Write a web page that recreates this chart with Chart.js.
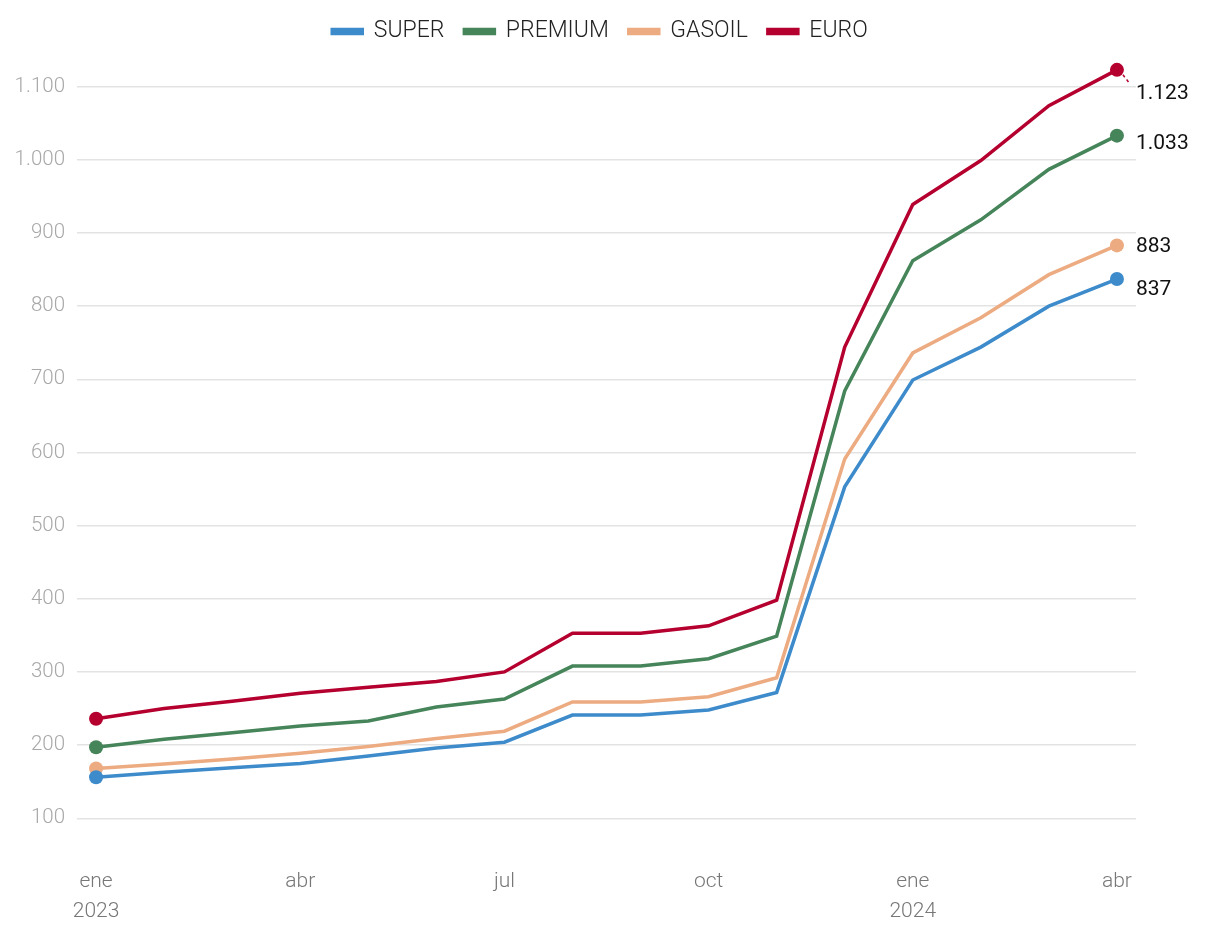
<!DOCTYPE html>
<html>
<head>
<meta charset="utf-8">
<script src="https://cdn.jsdelivr.net/npm/chart.js@4"></script>
<style>
  html, body { margin: 0; padding: 0; background: #fff; }
  #wrap { width: 1220px; height: 938px; }
</style>
</head>
<body>
<div id="wrap"><canvas id="fuelChart"></canvas></div>
<script>
// meses ene 2023 - abr 2024
const months = ["ene", "feb", "mar", "abr", "may", "jun", "jul", "ago", "sep", "oct", "nov", "dic", "ene", "feb", "mar", "abr"];
const years = ["2023", "", "", "", "", "", "", "", "", "", "", "", "2024", "", "", ""];
const tickMonths = [0, 3, 6, 9, 12, 15];

const superVals   = [156, 163, 169, 175, 185, 196, 204, 241, 241, 248, 272, 553, 699, 744, 800, 837];
const premiumVals = [197, 208, 217, 226, 233, 252, 263, 308, 308, 318, 349, 684, 862, 918, 987, 1033];
const gasoilVals  = [168, 174, 181, 189, 198, 209, 219, 259, 259, 266, 292, 591, 736, 784, 843, 883];
const euroVals    = [236, 250, 260, 271, 279, 287, 300, 353, 353, 363, 398, 744, 939, 999, 1074, 1123];

const yTicks = [100, 200, 300, 400, 500, 600, 700, 800, 900, 1000, 1100];

const fmt = (v) => v.toLocaleString("es-AR");

function series(label, vals, color, labelDy, leader) {
  return {
    label: label,
    data: vals.map((v, i) => ({ x: i, y: v })),
    borderColor: color,
    backgroundColor: color,
    borderWidth: 3.5,
    pointRadius: (ctx) => (ctx.dataIndex === 0 || ctx.dataIndex === vals.length - 1) ? 7 : 0,
    pointHoverRadius: 7,
    pointBorderWidth: 0,
    tension: 0,
    endLabelDy: labelDy,
    endLeader: leader
  };
}

// etiqueta con el ultimo valor de cada serie
const endLabels = {
  id: "endLabels",
  afterDatasetsDraw(chart) {
    const ctx = chart.ctx;
    ctx.save();
    ctx.font = "21px Roboto";
    ctx.fillStyle = "#111";
    ctx.textBaseline = "middle";
    chart.data.datasets.forEach((ds, i) => {
      const meta = chart.getDatasetMeta(i);
      const pt = meta.data[meta.data.length - 1];
      const val = ds.data[ds.data.length - 1].y;
      const dy = ds.endLabelDy || 0;
      if (ds.endLeader) {
        ctx.strokeStyle = ds.borderColor;
        ctx.lineWidth = 1.5;
        ctx.setLineDash([3, 3]);
        ctx.beginPath();
        ctx.moveTo(pt.x + 6, pt.y + 5);
        ctx.lineTo(pt.x + 13, pt.y + 14);
        ctx.stroke();
        ctx.setLineDash([]);
      }
      ctx.fillText(fmt(val), pt.x + 19, pt.y + dy + 1);
    });
    ctx.restore();
  }
};

const ctx = document.getElementById("fuelChart").getContext("2d");
new Chart(ctx, {
  type: "line",
  data: {
    datasets: [
      series("SUPER", superVals, "#3d8bcb", 10, false),
      series("PREMIUM", premiumVals, "#46845a", 7, false),
      series("GASOIL", gasoilVals, "#edab81", 0, false),
      series("EURO", euroVals, "#b5002f", 23, true)
    ]
  },
  options: {
    responsive: true,
    maintainAspectRatio: false,
    animation: false,
    layout: { padding: { left: 0, right: 20, top: 0, bottom: 0 } },
    plugins: {
      legend: {
        position: "top",
        align: "center",
        labels: {
          boxWidth: 30,
          boxHeight: 4,
          padding: 20,
          color: "#222",
          font: { family: "Roboto", size: 23, weight: "300" }
        }
      },
      tooltip: { enabled: false }
    },
    scales: {
      x: {
        type: "linear",
        min: -0.28,
        max: 15.28,
        grid: { display: false, drawTicks: false },
        border: { display: false },
        afterBuildTicks: (axis) => { axis.ticks = tickMonths.map((v) => ({ value: v })); },
        ticks: {
          color: "#777",
          padding: 12,
          maxRotation: 0,
          font: { family: "Roboto", size: 21, weight: "300", lineHeight: 1.4 },
          callback: (v) => years[v] ? [months[v], years[v]] : months[v]
        }
      },
      y: {
        min: 49.5,
        max: 1146,
        grid: { color: "#e3e3e3", lineWidth: 1.5, drawTicks: false },
        border: { display: false },
        afterBuildTicks: (axis) => { axis.ticks = yTicks.map((v) => ({ value: v })); },
        afterFit: (axis) => { axis.width = 77; },
        ticks: {
          color: "#a8a8a8",
          padding: 12,
          font: { family: "Roboto", size: 20.5, weight: "300" },
          callback: (v) => fmt(v)
        }
      },
      // eje vacio a la derecha, deja lugar para las etiquetas finales
      yRight: {
        position: "right",
        grid: { display: false, drawTicks: false },
        border: { display: false },
        ticks: { display: false },
        afterFit: (axis) => { axis.width = 64; }
      }
    }
  },
  plugins: [endLabels]
});
</script>
</body>
</html>
